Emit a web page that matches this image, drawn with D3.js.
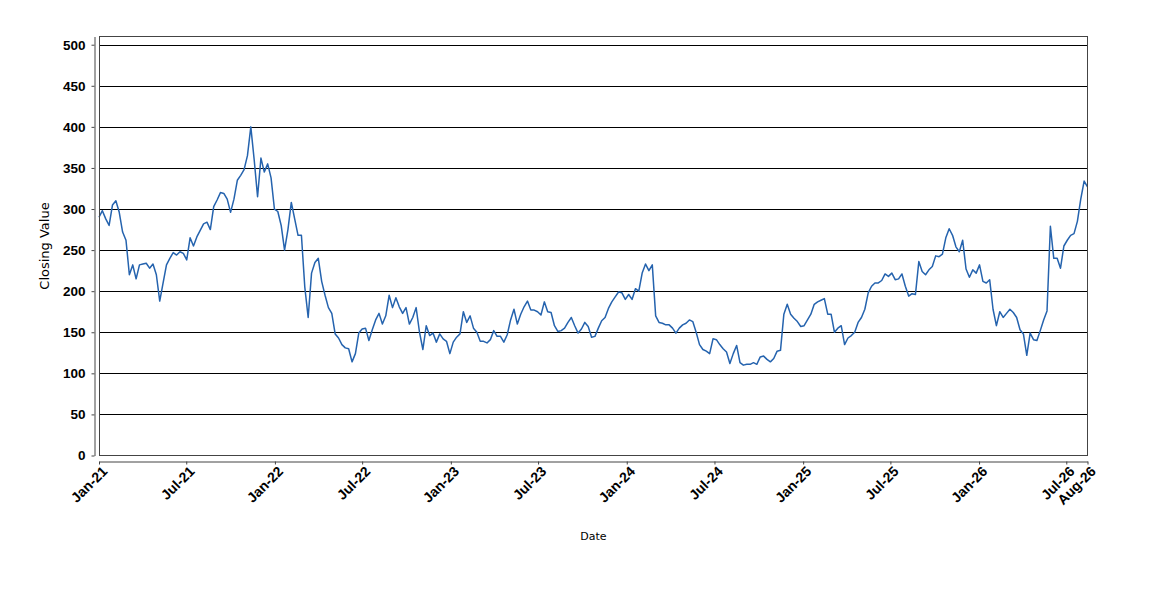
<!DOCTYPE html>
<html>
<head>
<meta charset="utf-8">
<script src="https://cdn.jsdelivr.net/npm/d3@7"></script>
<style>
  body { margin: 0; background: #fff; }
  svg { display: block; }
</style>
</head>
<body>
<div id="chart"></div>
<script>
// Weekly closing values, starting 1 Jan 2021
const startDate = "2021-01-01";
const closeValues = [
  290, 298, 288, 280, 305, 310, 296, 272, 262, 220,
  232, 215, 232, 233, 234, 228, 233, 220, 188, 210,
  232, 240, 247, 244, 248, 246, 238, 265, 255, 266,
  274, 282, 284, 275, 303, 311, 320, 319, 312, 296,
  312, 335, 341, 348, 365, 400, 360, 315, 362, 345,
  355, 338, 300, 297, 280, 250, 275, 308, 288, 268,
  268, 205, 168, 222, 235, 240, 212, 195, 180, 173,
  148, 143, 135, 131, 130, 114, 124, 149, 154, 155,
  140, 153, 165, 173, 160, 170, 195, 180, 192, 181,
  173, 180, 160, 168, 180, 150, 129, 158, 146, 149,
  138, 148, 142, 139, 124, 138, 144, 148, 175, 162,
  170, 155, 150, 139, 139, 137, 141, 152, 145, 145,
  138, 147, 165, 178, 160, 172, 181, 188, 177, 177,
  175, 171, 187, 175, 174, 158, 151, 152, 155, 162,
  168, 158, 149, 154, 162, 157, 144, 145, 155, 164,
  168, 179, 187, 193, 199, 198, 190, 196, 190, 203,
  200, 222, 233, 225, 232, 170, 162, 161, 159, 159,
  155, 149, 155, 159, 161, 165, 163, 150, 135, 129,
  127, 124, 142, 141, 135, 130, 126, 112, 124, 134,
  113, 110, 111, 111, 113, 111, 120, 121, 117, 114,
  118, 127, 128, 172, 184, 172, 167, 163, 157, 158,
  165, 172, 184, 187, 189, 191, 172, 172, 150, 155,
  158, 135, 143, 146, 150, 162, 168, 178, 198, 206,
  210, 210, 213, 221, 218, 222, 214, 215, 221, 206,
  194, 197, 196, 236, 224, 220, 226, 230, 243, 242,
  245, 265, 276, 268, 254, 248, 262, 227, 217, 226,
  222, 232, 212, 210, 214, 178, 158, 175, 168, 173,
  178, 174, 168, 153, 148, 122, 149, 141, 140, 152,
  165, 176, 279, 240, 240, 228, 255, 262, 268, 270,
  285, 312, 334, 327
];

// x axis ticks (the last one sits on the end of the data)
const tickDates = [
  "2021-01-01", "2021-07-01", "2022-01-01", "2022-07-01", "2023-01-01", "2023-07-01",
  "2024-01-01", "2024-07-01", "2025-01-01", "2025-07-01", "2026-01-01", "2026-07-01"
];
const tickLabels = [
  "Jan-21", "Jul-21", "Jan-22", "Jul-22", "Jan-23", "Jul-23",
  "Jan-24", "Jul-24", "Jan-25", "Jul-25", "Jan-26", "Jul-26", "Aug-26"
];
const yTicks = [0, 50, 100, 150, 200, 250, 300, 350, 400, 450, 500];

const width = 1150;
const height = 600;
const plot = { left: 99.5, right: 1087.5, top: 36.5, bottom: 455.5 };

const parse = d3.utcParse("%Y-%m-%d");
const t0 = parse(startDate);
const series = closeValues.map((v, i) => ({ date: d3.utcDay.offset(t0, i * 7), value: v }));
const tEnd = series[series.length - 1].date;
const ticks = tickDates.map(parse).concat([tEnd]);

const svg = d3.select("#chart")
  .append("svg")
  .attr("width", width)
  .attr("height", height)
  .style("font-family", "'DejaVu Sans', sans-serif");

const x = d3.scaleUtc()
  .domain([t0, tEnd])
  .range([99, plot.right]);

const y = d3.scaleLinear()
  .domain([0, 510])
  .range([plot.bottom, plot.top]);

// Grid lines
svg.append("g")
  .selectAll("line")
  .data(yTicks.filter(d => d > 0))
  .join("line")
  .attr("x1", plot.left)
  .attr("x2", plot.right)
  .attr("y1", d => Math.round(y(d)) + 0.5)
  .attr("y2", d => Math.round(y(d)) + 0.5)
  .attr("stroke", "#000")
  .attr("stroke-width", 1);

// Line
const line = d3.line()
  .x(d => x(d.date))
  .y(d => y(d.value));

svg.append("path")
  .datum(series)
  .attr("fill", "none")
  .attr("stroke", "#2563ae")
  .attr("stroke-width", 1.5)
  .attr("stroke-linejoin", "round")
  .attr("d", line);

// Plot border
svg.append("rect")
  .attr("x", plot.left)
  .attr("y", plot.top)
  .attr("width", plot.right - plot.left)
  .attr("height", plot.bottom - plot.top)
  .attr("fill", "none")
  .attr("stroke", "#444")
  .attr("stroke-width", 1);

// Y axis, set off to the left of the plot
const yAxis = svg.append("g")
  .attr("transform", "translate(94.5,0)")
  .call(d3.axisLeft(y).tickValues(yTicks).tickSize(3).tickSizeOuter(0).tickPadding(6));
yAxis.select(".domain").attr("stroke", "#444");
yAxis.selectAll(".tick line").attr("stroke", "#444");
yAxis.selectAll("text")
  .attr("fill", "#000")
  .style("font-size", "13.5px")
  .style("font-weight", "bold");

// X axis, set off below the plot
const xAxis = svg.append("g")
  .attr("transform", "translate(0,461.5)")
  .call(d3.axisBottom(x).tickValues(ticks).tickFormat((d, i) => tickLabels[i])
    .tickSize(3).tickSizeOuter(0));
xAxis.select(".domain").attr("stroke", "#444");
xAxis.selectAll(".tick line").attr("stroke", "#444");
xAxis.selectAll("text")
  .attr("fill", "#000")
  .attr("text-anchor", "end")
  .attr("dy", "0.35em")
  .attr("transform", "translate(1,3) rotate(-45)")
  .style("font-size", "14px")
  .style("font-weight", "bold");

// Axis titles
svg.append("text")
  .attr("transform", `translate(49,${(plot.top + plot.bottom) / 2}) rotate(-90)`)
  .attr("text-anchor", "middle")
  .style("font-size", "13px")
  .text("Closing Value");

svg.append("text")
  .attr("x", (plot.left + plot.right) / 2)
  .attr("y", 540)
  .attr("text-anchor", "middle")
  .style("font-size", "11px")
  .text("Date");
</script>
</body>
</html>
